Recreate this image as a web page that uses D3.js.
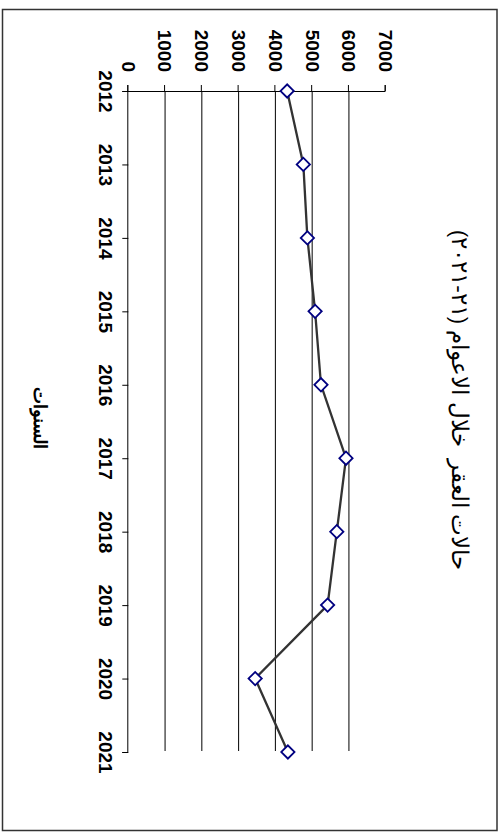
<!DOCTYPE html>
<html><head><meta charset="utf-8">
<script src="https://cdn.jsdelivr.net/npm/d3@7"></script>
<style>html,body{margin:0;padding:0;background:#fff;}svg{display:block;}</style>
</head><body>
<script>
const years = ["2012","2013","2014","2015","2016","2017","2018","2019","2020","2021"];
const cases = [4320, 4760, 4870, 5080, 5240, 5920, 5670, 5420, 3450, 4340];
const valueTicks = [0,1000,2000,3000,4000,5000,6000,7000];
const gridValues = [1000,2000,3000,4000,5000,6000];
const titleText = "حالات العقر  خلال الاعوام (٢١-٢٠٢١)";
const xTitleText = "السنوات";

const W = 502, H = 832;
const svg = d3.select("body").append("svg").attr("width", W).attr("height", H);

// outer border
svg.append("rect").attr("x", 2.5).attr("y", 9.5).attr("width", 494.5).attr("height", 821)
  .attr("fill", "none").attr("stroke", "#333").attr("stroke-width", 1.5);

// chart drawn in unrotated frame, then rotated 90deg clockwise
const g = svg.append("g").attr("transform", `translate(${W},0) rotate(90)`);

const x = d3.scalePoint().domain(years).range([91, 752]);
const y = d3.scaleLinear().domain([0, 7000]).range([373.7, 116.3]);

// gridlines
g.append("g").selectAll("line").data(gridValues).join("line")
  .attr("x1", 91).attr("x2", 751)
  .attr("y1", d => y(d)).attr("y2", d => y(d))
  .attr("stroke", "#000").attr("stroke-width", 1);

// value axis (left in original frame)
const yAxis = g.append("g").attr("transform", "translate(91,0)")
  .call(d3.axisLeft(y).tickValues(valueTicks).tickSize(6).tickPadding(13).tickFormat(d3.format("d")));
// category axis (bottom in original frame)
const xAxis = g.append("g").attr("transform", `translate(0,${y(0)})`)
  .call(d3.axisBottom(x).tickSize(6).tickPadding(10));

[yAxis, xAxis].forEach(a => {
  a.selectAll("path.domain").attr("stroke", "#000").attr("stroke-width", 1);
  a.selectAll(".tick line").attr("stroke", "#000").attr("stroke-width", 1);
  a.selectAll("text").attr("font-family", "'Liberation Sans', Arial, sans-serif")
    .attr("font-weight", "bold").attr("font-size", 19).attr("fill", "#000");
});

// line
const line = d3.line().x((d, i) => x(years[i])).y(d => y(d));
g.append("path").datum(cases).attr("d", line)
  .attr("fill", "none").attr("stroke", "#333").attr("stroke-width", 2.3);

// diamond markers
const sym = d3.symbol().type(d3.symbolSquare).size(88);
g.append("g").selectAll("path").data(cases).join("path")
  .attr("d", sym)
  .attr("transform", (d, i) => `translate(${x(years[i])},${y(d)}) rotate(45)`)
  .attr("fill", "#fff").attr("stroke", "#000080").attr("stroke-width", 1.8);

// title
g.append("text").attr("x", 400).attr("y", 44)
  .attr("text-anchor", "middle").attr("dominant-baseline", "middle")
  .attr("direction", "rtl").attr("xml:space", "preserve").style("white-space", "pre")
  .attr("font-family", "'Liberation Sans', Arial, sans-serif")
  .attr("font-size", 22.5).attr("fill", "#000")
  .text(titleText);

// x axis title
g.append("text").attr("x", 418).attr("y", 463)
  .attr("text-anchor", "middle").attr("dominant-baseline", "middle")
  .attr("direction", "rtl")
  .attr("font-family", "'Liberation Sans', Arial, sans-serif")
  .attr("font-weight", "bold").attr("font-size", 18).attr("fill", "#000")
  .text(xTitleText);
</script>
</body></html>
